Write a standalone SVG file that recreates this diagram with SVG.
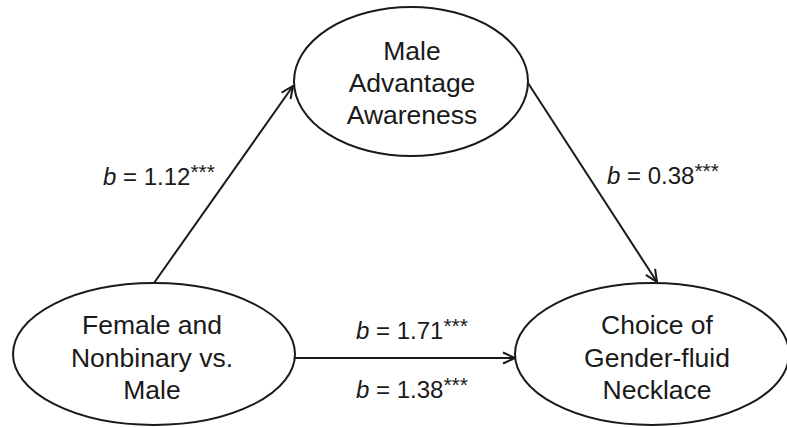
<svg xmlns="http://www.w3.org/2000/svg" width="787" height="427" viewBox="0 0 787 427">
  <style>
    .node ellipse { fill: #ffffff; stroke: #1a1a1a; stroke-width: 2; }
    .node text { font-family: "Liberation Sans", Arial, sans-serif; font-size: 26.5px; fill: #1a1a1a; text-anchor: middle; }
    .edge line { stroke: #1a1a1a; stroke-width: 2; }
    .lbl { font-family: "Liberation Sans", Arial, sans-serif; font-size: 24px; fill: #1a1a1a; }
    .star { font-size: 21px; }
  </style>
  <defs>
    <marker id="arr" viewBox="0 0 14 14" refX="13" refY="7" markerWidth="14" markerHeight="14" markerUnits="userSpaceOnUse" orient="auto">
      <path d="M1,1.5 L13,7 L1,12.5" fill="none" stroke="#1a1a1a" stroke-width="2"/>
    </marker>
  </defs>
  <rect width="787" height="427" fill="#ffffff"/>
  <g id="connectors" class="edge">
    <line x1="154" y1="283" x2="293" y2="86" marker-end="url(#arr)"/>
    <line x1="528" y1="83" x2="657" y2="282" marker-end="url(#arr)"/>
    <line x1="295" y1="358" x2="515" y2="358" marker-end="url(#arr)"/>
  </g>
  <g id="node-awareness" class="node">
    <ellipse cx="411" cy="81.5" rx="117" ry="74.5"/>
    <text x="412" y="60">Male</text>
    <text x="412" y="92">Advantage</text>
    <text x="412" y="124">Awareness</text>
  </g>
  <g id="node-gender" class="node">
    <ellipse cx="154" cy="354" rx="141" ry="71"/>
    <text x="152" y="334">Female and</text>
    <text x="152" y="367">Nonbinary vs.</text>
    <text x="152" y="399">Male</text>
  </g>
  <g id="node-choice" class="node">
    <ellipse cx="652" cy="354" rx="137" ry="71"/>
    <text x="657" y="334">Choice of</text>
    <text x="657" y="367">Gender-fluid</text>
    <text x="657" y="399">Necklace</text>
  </g>
  <g id="labels">
    <text class="lbl" x="103" y="185"><tspan font-style="italic">b</tspan> = 1.12<tspan class="star" dy="-6">***</tspan></text>
    <text class="lbl" x="607" y="184"><tspan font-style="italic">b</tspan> = 0.38<tspan class="star" dy="-6">***</tspan></text>
    <text class="lbl" x="356" y="339"><tspan font-style="italic">b</tspan> = 1.71<tspan class="star" dy="-6">***</tspan></text>
    <text class="lbl" x="356" y="398"><tspan font-style="italic">b</tspan> = 1.38<tspan class="star" dy="-6">***</tspan></text>
  </g>
</svg>
